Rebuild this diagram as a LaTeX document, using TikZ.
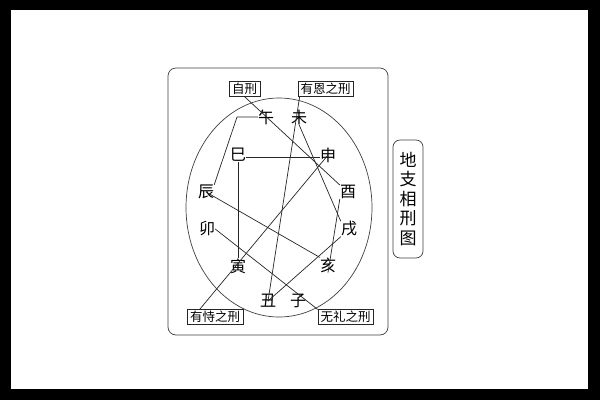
\documentclass[tikz,border=0pt]{standalone}
\usepackage{fontspec}
\setmainfont{Noto Sans CJK SC}
\usetikzlibrary{calc}
\begin{document}
\begin{tikzpicture}[x=1pt,y=-1pt,
  zc/.style={inner sep=0pt,font=\fontsize{16}{16}\selectfont},
  lbl/.style={draw=black!85,line width=0.7pt,inner sep=0pt,minimum height=14.5pt,font=\fontsize{12.5}{13}\selectfont},
  ln/.style={draw=black!85,line width=0.7pt},
  frm/.style={draw=black!75,line width=0.7pt}]
\useasboundingbox (0,0) rectangle (600,400);
\fill[black] (0,0) rectangle (600,400);
\fill[white] (11,10) rectangle (588,389);
% frame and ellipse
\draw[frm,rounded corners=8pt] (168,68) rectangle (388,335);
\draw[frm] (279,207.5) ellipse [x radius=93pt, y radius=109.5pt];
% title
\node[frm,draw,rounded corners=7pt,minimum width=30pt,minimum height=118pt,inner sep=0pt,align=center,
  font=\fontsize{17}{19.5}\selectfont] (title) at (408,199) {地\\支\\相\\刑\\图};
% labels
\node[lbl,minimum width=31pt] (zx) at (244.5,89) {自刑};
\node[lbl,minimum width=55pt] (yen) at (325.5,89) {有恩之刑};
\node[lbl,minimum width=56pt] (ysz) at (215,317) {有恃之刑};
\node[lbl,minimum width=55pt] (wl) at (345.5,317) {无礼之刑};
% branches
\node[zc] (wu) at (266,117) {午};
\node[zc] (wei) at (299,117) {未};
\node[zc] (si) at (238,155) {巳};
\node[zc] (shen) at (328,155) {申};
\node[zc] (chen) at (206,192) {辰};
\node[zc] (you) at (348,192) {酉};
\node[zc] (mao) at (207,229) {卯};
\node[zc] (xu) at (349,229) {戌};
\node[zc] (yin) at (238,266) {寅};
\node[zc] (hai) at (328,265) {亥};
\node[zc] (chou) at (268,301) {丑};
\node[zc] (zi) at (298,301) {子};
% connectors
\coordinate (c1) at (237,117);
\coordinate (e1) at ($(yen.south west)+(2,0)$);
\coordinate (s1) at ($(ysz.north west)+(13,0)$);
% self punishment
\draw[ln] (zx.south) -- (you.north west);
\draw[ln] (wu.west) -- (c1) -- (chen.north east);
\draw[ln] (chen.center) -- (hai.north west);
\draw[ln] (you.south west) -- (hai.south);
% ungrateful
\draw[ln] (e1) -- (chou.center);
\draw[ln] (wei.south) -- (xu.north west);
\draw[ln] (chou.center) -- (xu.south west);
% power
\draw[ln] (s1) -- (shen.center);
\draw[ln] ([yshift=-2pt]si.east) -- ([yshift=-2pt]shen.west);
\draw[ln] (si.south) -- (yin.north);
% rude
\draw[ln] (mao.east) -- (wl.north west);
\end{tikzpicture}
\end{document}
